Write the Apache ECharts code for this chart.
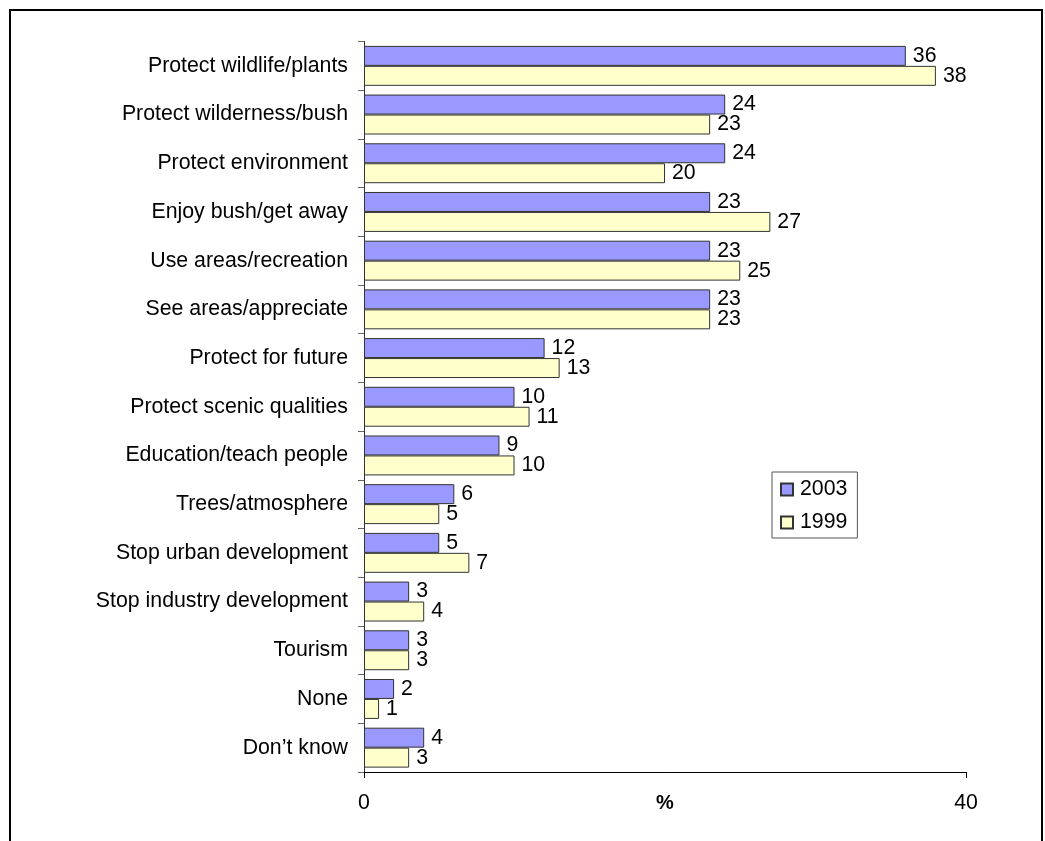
<!DOCTYPE html>
<html>
<head>
<meta charset="utf-8">
<script src="https://cdn.jsdelivr.net/npm/echarts@6/dist/echarts.min.js"></script>
<style>
  html, body { margin: 0; padding: 0; background: #fff; }
  #chart { width: 1045px; height: 841px; }
</style>
</head>
<body>
<div id="chart"></div>
<script>
// Reasons given for protecting natural areas, % of respondents
const categories = [
  'Protect wildlife/plants',
  'Protect wilderness/bush',
  'Protect environment',
  'Enjoy bush/get away',
  'Use areas/recreation',
  'See areas/appreciate',
  'Protect for future',
  'Protect scenic qualities',
  'Education/teach people',
  'Trees/atmosphere',
  'Stop urban development',
  'Stop industry development',
  'Tourism',
  'None',
  'Don\u2019t know'
];
const values2003 = [36, 24, 24, 23, 23, 23, 12, 10, 9, 6, 5, 3, 3, 2, 4];
const values1999 = [38, 23, 20, 27, 25, 23, 13, 11, 10, 5, 7, 4, 3, 1, 3];
const seriesNames = ['2003', '1999'];

const FONT = 'Liberation Sans, Arial, sans-serif';
const FONT_SIZE = 21.3;

const chart = echarts.init(document.getElementById('chart'), null, { renderer: 'canvas' });

const labelStyle = {
  show: true,
  position: 'right',
  distance: 7,
  color: '#000',
  fontFamily: FONT,
  fontSize: FONT_SIZE
};

chart.setOption({
  animation: false,
  backgroundColor: '#fff',
  graphic: [{
    type: 'rect',
    shape: { x: 10, y: 10, width: 1032, height: 900 },
    style: { fill: 'none', stroke: '#000', lineWidth: 2 },
    silent: true
  }],
  grid: { left: 364, right: 79, top: 41.5, bottom: 69 },
  legend: {
    orient: 'vertical',
    left: 772,
    top: 472,
    padding: [7, 10, 5, 8],
    itemGap: 12,
    itemWidth: 12,
    itemHeight: 12,
    borderColor: '#555',
    borderWidth: 1,
    borderRadius: 0,
    icon: 'rect',
    textStyle: { fontFamily: FONT, fontSize: FONT_SIZE, color: '#000', padding: [0, 0, 0, 2] },
    data: seriesNames
  },
  xAxis: {
    type: 'value',
    min: 0,
    max: 40,
    interval: 40,
    name: '%',
    nameLocation: 'middle',
    nameGap: 21,
    nameMoveOverlap: false,
    nameTextStyle: { fontFamily: FONT, fontSize: 20, fontWeight: 'bold', color: '#000', verticalAlign: 'top' },
    axisLine: { show: true, lineStyle: { color: '#000', width: 1 } },
    axisTick: { show: true, length: 6, lineStyle: { color: '#000' } },
    axisLabel: { margin: 21, fontFamily: FONT, fontSize: FONT_SIZE, color: '#000' },
    splitLine: { show: false }
  },
  yAxis: {
    type: 'category',
    inverse: true,
    data: categories,
    axisLine: { show: true, lineStyle: { color: '#333', width: 1 } },
    axisTick: { show: true, length: 6, alignWithLabel: false, lineStyle: { color: '#666' } },
    axisLabel: { margin: 16, fontFamily: FONT, fontSize: FONT_SIZE, color: '#000' }
  },
  series: [
    {
      name: seriesNames[0],
      type: 'bar',
      data: values2003,
      barGap: '0%',
      barCategoryGap: '18%',
      itemStyle: { color: '#9999FF', borderColor: '#333', borderWidth: 1 },
      label: labelStyle
    },
    {
      name: seriesNames[1],
      type: 'bar',
      data: values1999,
      barGap: '0%',
      barCategoryGap: '18%',
      itemStyle: { color: '#FFFFCC', borderColor: '#333', borderWidth: 1 },
      label: labelStyle
    }
  ]
});
</script>
</body>
</html>
